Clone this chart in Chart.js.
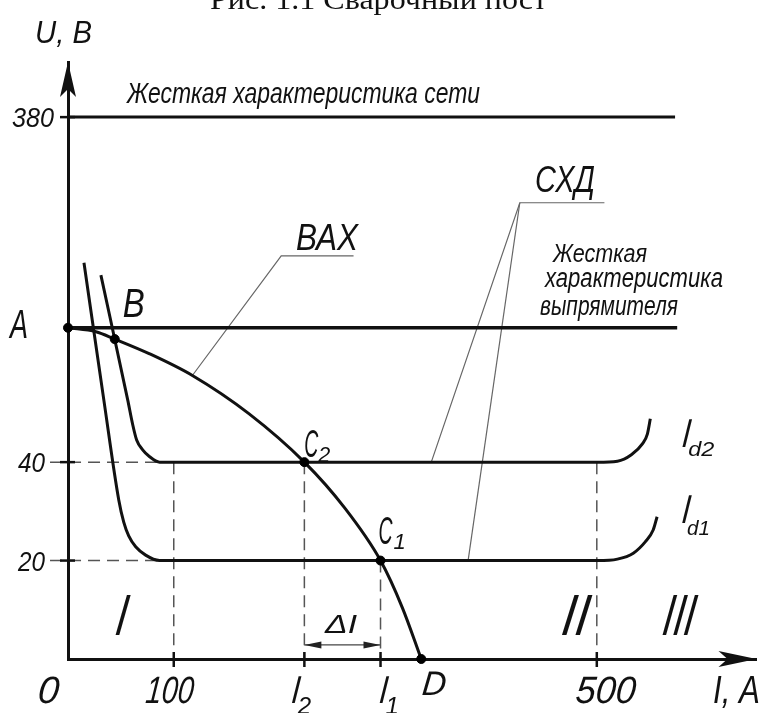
<!DOCTYPE html>
<html>
<head>
<meta charset="utf-8">
<script src="https://cdn.jsdelivr.net/npm/chart.js@4.4.1/dist/chart.umd.min.js"></script>
<style>
html, body { margin: 0; padding: 0; background: #fff; }
canvas { display: block; }
</style>
</head>
<body>
<canvas id="chart" width="762" height="713"></canvas>
<script>
// ВАХ дуги (ток, напряжение в условных единицах схемы)
const vaxI = [0, 26.4, 44.2, 77.2, 117.6, 171.3, 223.5, 261.6, 295.5, 316.2, 334];
const vaxU = [67.3, 66.5, 65.0, 62.0, 57.6, 49.8, 40, 30.7, 20, 10.4, 0];

// СХД при Id1
const id1I = [15.1, 33.9, 48.0, 52.7, 57.4, 64.0, 73.4, 86.6, 500.7, 519.5, 534.5, 545.8, 553.3, 557];
const id1U = [80.5, 52.6, 32.3, 27.8, 25.0, 22.8, 21.1, 20, 20, 20.3, 21.5, 23.8, 26.2, 28.9];

// СХД при Id2
const id2I = [31.1, 56.5, 61.2, 64.9, 70.6, 77.2, 86.6, 500.7, 519.5, 532.7, 543.1, 547.8, 550.6];
const id2U = [78.0, 52.6, 47.6, 44.5, 42.5, 41.1, 40, 40, 40.2, 41.5, 43.7, 45.7, 48.8];

// жесткие характеристики
const netI = [0, 574];
const netU = [110.1, 110.1];   // 380 В
const rectI = [0, 576];
const rectU = [67.3, 67.3];    // уровень A

// характерные точки
const pointNames = ['A', 'B', 'C2', 'C1', 'D'];
const pointI = [0, 44.2, 223.5, 295.5, 334];
const pointU = [67.3, 65.0, 40, 20, 0];

// подписи осей
const xTicks = [0, 100, 223.5, 295.5, 334, 500];
const xTickMain = ['0', '100', 'I', 'I', 'D', '500'];
const xTickSub = ['', '', '2', '1', '', ''];
const yTicks = [20, 40, 67.3, 110.1];
const yTickLabels = ['20', '40', 'A', '380'];

// выноски
const baxLeaderI = [117.6, 201.6, 270];
const baxLeaderU = [57.6, 81.9, 81.9];
const sxdLeaderI = [343.5, 427.2, 507.2];
const sxdLeaderU = [40, 92.7, 92.7];
const sxdLeader2I = [378.3, 427.2];
const sxdLeader2U = [20, 92.7];

// ΔI
const deltaI = [223.5, 295.5];
const deltaU = [2.85, 2.85];

function pts(xs, ys) {
    return xs.map((v, i) => ({ x: v, y: ys[i] }));
}

function curve(xs, ys, width) {
    return {
        data: pts(xs, ys),
        borderColor: '#111',
        borderWidth: width,
        pointRadius: 0,
        fill: false,
        cubicInterpolationMode: 'monotone',
        clip: false,
        order: 2
    };
}

function straight(xs, ys, color, width, dash) {
    return {
        data: pts(xs, ys),
        borderColor: color,
        borderWidth: width,
        borderDash: dash || [],
        pointRadius: 0,
        tension: 0,
        fill: false,
        clip: false,
        order: 3
    };
}

const datasets = [
    {
        data: pts(pointI, pointU),
        showLine: false,
        pointRadius: 4.5,
        pointBackgroundColor: '#000',
        pointBorderColor: '#000',
        clip: false,
        order: 0
    },
    curve(vaxI, vaxU, 3),
    curve(id1I, id1U, 3),
    curve(id2I, id2U, 3),
    straight(netI, netU, '#111', 3),
    straight(rectI, rectU, '#111', 3.5),
    // пунктирные проекции
    straight([-17, 86.6], [40, 40], '#555', 1.5, [12, 7]),
    straight([-17, 86.6], [20, 20], '#555', 1.5, [12, 7]),
    straight([xTicks[1], xTicks[1]], [40, 0], '#555', 1.5, [12, 7]),
    straight([xTicks[2], xTicks[2]], [40, 0], '#555', 1.5, [12, 7]),
    straight([xTicks[3], xTicks[3]], [20, 0], '#555', 1.5, [12, 7]),
    straight([xTicks[5], xTicks[5]], [40, 0], '#555', 1.5, [12, 7]),
    // выноски
    straight(baxLeaderI, baxLeaderU, '#666', 1.2),
    straight(sxdLeaderI, sxdLeaderU, '#666', 1.2),
    straight(sxdLeader2I, sxdLeader2U, '#666', 1.2),
    straight(deltaI, deltaU, '#444', 1.2)
];

function txt(ctx, s, x, y, size, w, family, sy, skew) {
    ctx.save();
    ctx.font = (family ? '' : 'italic ') + size + 'px ' + (family || '"Liberation Sans", "DejaVu Sans", sans-serif');
    ctx.textAlign = 'left';
    ctx.textBaseline = 'alphabetic';
    const m = ctx.measureText(s).width;
    ctx.translate(x, y);
    if (skew) ctx.transform(1, 0, -skew, 1, 0, 0);
    ctx.scale(w ? w / m : 1, sy || 1);
    ctx.fillText(s, 0, 0);
    ctx.restore();
}

function arrowHead(ctx, tx, ty, dx, dy, len, half, notch) {
    // dx, dy — единичное направление острия
    const nx = -dy, ny = dx;
    ctx.beginPath();
    ctx.moveTo(tx, ty);
    ctx.lineTo(tx - dx * len + nx * half, ty - dy * len + ny * half);
    ctx.lineTo(tx - dx * (len - notch), ty - dy * (len - notch));
    ctx.lineTo(tx - dx * len - nx * half, ty - dy * len - ny * half);
    ctx.closePath();
    ctx.fill();
}

const drawing = {
    id: 'drawing',
    afterDatasetsDraw(chart) {
        const { ctx, chartArea, scales: { x, y } } = chart;
        const px = v => x.getPixelForValue(v);
        const py = v => y.getPixelForValue(v);
        ctx.save();
        ctx.fillStyle = '#111';
        ctx.strokeStyle = '#111';

        // стрелки осей
        arrowHead(ctx, chartArea.left, chartArea.top, 0, -1, 35, 8, 8);
        arrowHead(ctx, chartArea.right, chartArea.bottom, 1, 0, 38, 8, 9);

        // засечки
        ctx.lineWidth = 2.5;
        [1, 2, 3, 5].forEach(i => {
            ctx.beginPath();
            ctx.moveTo(px(xTicks[i]), py(0) - 7);
            ctx.lineTo(px(xTicks[i]), py(0) + 8);
            ctx.stroke();
        });
        [0, 1, 3].forEach(i => {
            ctx.beginPath();
            ctx.moveTo(px(0) - 8, py(yTicks[i]));
            ctx.lineTo(px(0) + 7, py(yTicks[i]));
            ctx.stroke();
        });

        // стрелки ΔI
        ctx.fillStyle = '#222';
        arrowHead(ctx, px(deltaI[0]), py(deltaU[0]), -1, 0, 17, 3.5, 0);
        arrowHead(ctx, px(deltaI[1]), py(deltaU[1]), 1, 0, 17, 3.5, 0);
        ctx.fillStyle = '#111';

        // заголовок (обрезан сверху)
        txt(ctx, 'Рис. 1.1 Сварочный пост', 210, 9, 30, 337, '"Liberation Serif", "DejaVu Serif", serif');

        // подписи осей
        txt(ctx, 'U, B', 35, 43, 32, 57);
        txt(ctx, 'I, A', 713, 703, 38, 47);

        // подписи по оси I
        const xdx = [-31, -29, -13.5, -2, 0, -22];
        const xw = [21, 48, 0, 0, 24, 60];
        const xs = [38, 38, 30, 30, 34, 38];
        const xb = [703, 703, 703, 703, 695, 703];
        xTicks.forEach((v, i) => {
            const lx = px(v) + xdx[i];
            const tall = (xTickMain[i] === 'I') ? 1.3 : 1;
            txt(ctx, xTickMain[i], lx, xb[i], xs[i], xw[i] || null, null, tall, 0.1);
            if (xTickSub[i]) txt(ctx, xTickSub[i], lx + 7, 714, 24, null);
        });

        // подписи по оси U
        const yr = [45, 45, 28, 54];
        const ys = [28, 28, 40, 28];
        const yw = [27, 27, 18, 42];
        yTicks.forEach((v, i) => {
            txt(ctx, yTickLabels[i], yr[i] - yw[i], py(v) + 10, ys[i], yw[i]);
        });

        // точки
        txt(ctx, 'B', px(pointI[1]) + 8, py(pointU[1]) - 22, 40, 22);
        txt(ctx, 'C', px(pointI[2]), py(pointU[2]) - 5, 34, 14, null, 1.15);
        txt(ctx, '2', px(pointI[2]) + 14, py(pointU[2]), 22, 12);
        txt(ctx, 'C', px(pointI[3]) - 2, py(pointU[3]) - 17, 34, 14, null, 1.15);
        txt(ctx, '1', px(pointI[3]) + 13, py(pointU[3]) - 12, 22, null);

        // надписи
        txt(ctx, 'Жесткая характеристика сети', 127, 103, 29, 353);
        txt(ctx, 'ВАХ', 296, 250, 37, 62);
        txt(ctx, 'СХД', 535, 192, 37, 60);
        txt(ctx, 'Жесткая', 553, 262, 26, 94);
        txt(ctx, 'характеристика', 545, 287, 27, 178);
        txt(ctx, 'выпрямителя', 540, 315, 27, 138);

        // Id2, Id1
        txt(ctx, 'I', px(id2I[id2I.length - 1]) + 31, 447, 30, null, null, 1.35, 0.1);
        txt(ctx, 'd2', px(id2I[id2I.length - 1]) + 38, 456, 21, 26);
        txt(ctx, 'I', px(id1I[id1I.length - 1]) + 24, 523, 30, null, null, 1.35, 0.1);
        txt(ctx, 'd1', px(id1I[id1I.length - 1]) + 30, 535, 21, 23);

        // области
        txt(ctx, 'I', 114, 635, 40, null, null, 1.45, 0.15);
        txt(ctx, 'II', 560, 635, 40, 27, null, 1.45, 0.15);
        txt(ctx, 'III', 661, 635, 40, 32, null, 1.45, 0.15);
        txt(ctx, 'ΔI', 325, 633, 25, 32);

        ctx.restore();
    }
};

new Chart(document.getElementById('chart'), {
    type: 'line',
    data: { datasets: datasets },
    options: {
        responsive: false,
        animation: false,
        events: [],
        layout: { padding: { top: 62, right: 2, left: 0, bottom: 0 } },
        plugins: {
            legend: { display: false },
            tooltip: { enabled: false }
        },
        scales: {
            x: {
                type: 'linear',
                min: 0,
                max: 651,
                ticks: { display: false },
                grid: { display: false },
                border: { display: true, color: '#111', width: 3 },
                afterFit(s) { s.height = 54; }
            },
            y: {
                type: 'linear',
                min: 0,
                max: 121.3,
                ticks: { display: false },
                grid: { display: false },
                border: { display: true, color: '#111', width: 3 },
                afterFit(s) { s.width = 68; }
            }
        }
    },
    plugins: [drawing]
});
</script>
</body>
</html>
